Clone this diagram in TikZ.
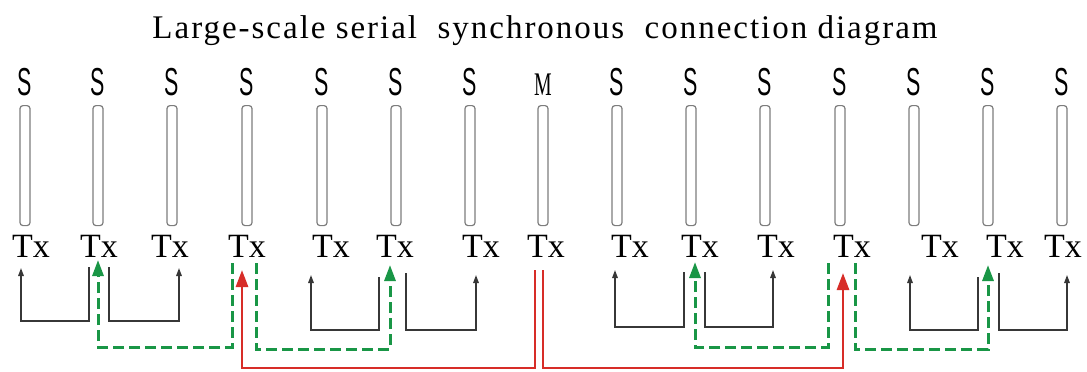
\documentclass[tikz,border=0pt]{standalone}
\usepackage{fontspec}
\setmainfont{Liberation Serif}
\newfontfamily\sfnar{Liberation Sans}
\newfontfamily\ttlfont[LetterSpace=6]{Liberation Serif}
\usetikzlibrary{arrows.meta,calc}
\definecolor{grn}{RGB}{25,150,70}
\definecolor{rd}{RGB}{215,45,40}
\definecolor{blk}{RGB}{55,55,55}
\definecolor{barc}{RGB}{125,125,125}
\begin{document}
\begin{tikzpicture}[x=1pt,y=-1pt,
  title/.style={font=\ttlfont\fontsize{33}{40}\selectfont, anchor=base, inner sep=0pt},
  slabel/.style={font=\sfnar\fontsize{39}{40}\selectfont, anchor=base, inner sep=0pt, xscale=0.55},
  mlabel/.style={font=\fontsize{33}{36}\selectfont, anchor=base, inner sep=0pt, xscale=0.6},
  txlabel/.style={font=\fontsize{34}{40}\selectfont, anchor=base, inner sep=0pt},
  barbox/.style={draw=barc, line width=1.2pt, rounded corners=3pt, minimum width=10pt, minimum height=120pt, inner sep=0pt, anchor=north},
  blkline/.style={draw=blk, line width=1.5pt, -{Triangle[length=8pt,width=5.5pt]}},
  grnline/.style={draw=grn, line width=3pt, dash pattern=on 11pt off 5pt, -{Triangle[length=16pt,width=11pt]}},
  rdline/.style={draw=rd, line width=2.8pt, -{Triangle[length=17pt,width=12pt]}}
]
\useasboundingbox (0,0) rectangle (1087,372);
\node[title] (ttl) at (545,38) {Large-scale serial \ synchronous \ connection diagram};
% bars and labels
\foreach \i/\x/\t/\l in {1/25/31/S,2/98/99/S,3/172/170/S,4/247/247/S,5/322/331/S,6/396/395/S,7/470/481/S,9/617/630/S,10/691/700/S,11/765/776/S,12/840/852/S,13/914/940/S,14/988/1005/S,15/1062/1063/S}{
  \node[slabel] (s\i) at (\x,95) {\l};
  \node[barbox] (b\i) at (\x,105) {};
  \node[txlabel] (tx\i) at (\t,257) {Tx};
}
\node[mlabel] (s8) at (543,95) {M};
\node[barbox] (b8) at (543,105) {};
\node[txlabel] (tx8) at (546,257) {Tx};
% named endpoints
\foreach \n/\x/\y in {
  a1s/89/267, a1t/21/268, a2s/109/267, a2t/179/268,
  a3s/379/277, a3t/311/275, a4s/406/273, a4t/476/275,
  a5s/684/272, a5t/615/270, a6s/705/272, a6t/773/270,
  a7s/978/277, a7t/910/275, a8s/999/273, a8t/1067/275,
  g1s/232/263, g1t/98/260, g2s/256/263, g2t/390/265,
  g3s/828/263, g3t/695/262, g4s/855/263, g4t/988/265,
  r1s/535/270, r1t/242/270, r2s/543/270, r2t/843/273}
  {\coordinate (\n) at (\x,\y);}
% black connectors
\draw[blkline] (a1s) -- (a1s|-0,321) -| (a1t);
\draw[blkline] (a2s) -- (a2s|-0,321) -| (a2t);
\draw[blkline] (a3s) -- (a3s|-0,330) -| (a3t);
\draw[blkline] (a4s) -- (a4s|-0,330) -| (a4t);
\draw[blkline] (a5s) -- (a5s|-0,327) -| (a5t);
\draw[blkline] (a6s) -- (a6s|-0,327) -| (a6t);
\draw[blkline] (a7s) -- (a7s|-0,330) -| (a7t);
\draw[blkline] (a8s) -- (a8s|-0,330) -| (a8t);
% green connectors
\draw[grnline] (g1s) -- (g1s|-0,347) -| (g1t);
\draw[grnline] (g2s) -- (g2s|-0,349) -| (g2t);
\draw[grnline] (g3s) -- (g3s|-0,347) -| (g3t);
\draw[grnline] (g4s) -- (g4s|-0,349) -| (g4t);
% red connectors
\draw[rdline] (r1s) -- (r1s|-0,368) -| (r1t);
\draw[rdline] (r2s) -- (r2s|-0,368) -| (r2t);
\end{tikzpicture}
\end{document}
